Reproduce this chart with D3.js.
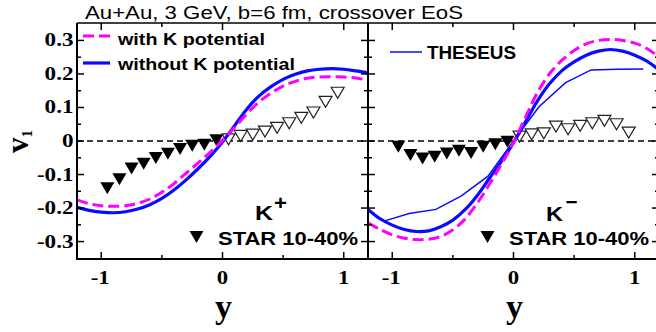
<!DOCTYPE html>
<html>
<head>
<meta charset="utf-8">
<script src="https://cdn.jsdelivr.net/npm/d3@7"></script>
<style>
  body { margin: 0; background: #fff; }
  svg { display: block; }
</style>
</head>
<body>
<div id="chart"></div>
<script>
// rapidity grid of the model curves
const rapidity = [-1.2, -1.1, -1.0, -0.9, -0.8, -0.7, -0.6, -0.5, -0.4, -0.3, -0.2, -0.1, 0,
  0.1, 0.2, 0.3, 0.4, 0.5, 0.6, 0.7, 0.8, 0.9, 1.0, 1.1, 1.2];

// K+ model curves
const kPlusWithPot = [-0.176, -0.187, -0.193, -0.195, -0.193, -0.186, -0.173, -0.153, -0.127, -0.096, -0.065, -0.033, 0.002,
  0.040, 0.081, 0.116, 0.143, 0.164, 0.178, 0.187, 0.191, 0.192, 0.191, 0.188, 0.181];
const kPlusWithoutPot = [-0.198, -0.207, -0.212, -0.214, -0.211, -0.203, -0.190, -0.171, -0.146, -0.116, -0.082, -0.045, -0.003,
  0.046, 0.095, 0.134, 0.162, 0.184, 0.199, 0.209, 0.214, 0.216, 0.214, 0.209, 0.203];

// K- model curves
const kMinusWithPot = [-0.244, -0.264, -0.280, -0.290, -0.294, -0.293, -0.285, -0.265, -0.233, -0.186, -0.130, -0.070, -0.005,
  0.072, 0.146, 0.202, 0.241, 0.270, 0.290, 0.300, 0.303, 0.300, 0.292, 0.276, 0.250];
const kMinusWithoutPot = [-0.204, -0.232, -0.251, -0.264, -0.270, -0.268, -0.256, -0.236, -0.205, -0.163, -0.112, -0.061, -0.005,
  0.058, 0.121, 0.172, 0.210, 0.236, 0.256, 0.268, 0.273, 0.268, 0.256, 0.238, 0.212];

// THESEUS K-
const theseusY = [-1.07, -0.86, -0.64, -0.43, -0.21, 0, 0.21, 0.43, 0.64, 0.86, 1.07];
const theseusV = [-0.239, -0.216, -0.204, -0.164, -0.105, 0.0, 0.102, 0.174, 0.212, 0.214, 0.215];

// STAR 10-40% (filled: measured, open: reflected)
const starYneg = [-0.95, -0.85, -0.75, -0.65, -0.55, -0.45, -0.35, -0.25, -0.15, -0.05];
const starYpos = [0.05, 0.15, 0.25, 0.35, 0.45, 0.55, 0.65, 0.75, 0.85, 0.95];
const starKPlusFilled = [-0.141, -0.114, -0.082, -0.068, -0.051, -0.038, -0.024, -0.014, -0.011, 0.002];
const starKPlusOpen = [0.005, 0.015, 0.019, 0.028, 0.039, 0.053, 0.069, 0.085, 0.117, 0.144];
const starKMinusFilled = [-0.017, -0.042, -0.052, -0.047, -0.037, -0.029, -0.036, -0.017, -0.010, -0.002];
const starKMinusOpen = [0.013, 0.020, 0.023, 0.043, 0.035, 0.045, 0.053, 0.060, 0.050, 0.025];

const yMajor = [-0.3, -0.2, -0.1, 0, 0.1, 0.2, 0.3];
const yMinor = [-0.25, -0.15, -0.05, 0.05, 0.15, 0.25];
const xMajor = [-1, 0, 1];
const xMinor = [-0.5, 0.5];

const W = 656, H = 332;
const plotTop = 23, plotBottom = 259, panelW = 291;
const blue = '#0a0aff', magenta = '#ff00ff';
const sans = '"Liberation Sans", Arial, sans-serif';
const serif = '"Liberation Serif", "Times New Roman", serif';

const svg = d3.select('#chart').append('svg')
  .attr('width', W)
  .attr('height', H);

const y = d3.scaleLinear().domain([-0.352, 0.352]).range([plotBottom, plotTop]);

const zip = (xs, vs) => xs.map((d, i) => [d, vs[i]]);

const panels = [
  {
    x0: 77, name: 'kplus',
    withPot: kPlusWithPot, withoutPot: kPlusWithoutPot,
    filled: starKPlusFilled, open: starKPlusOpen, theseus: false
  },
  {
    x0: 368, name: 'kminus',
    withPot: kMinusWithPot, withoutPot: kMinusWithoutPot,
    filled: starKMinusFilled, open: starKMinusOpen, theseus: true
  }
];

function txt(g, x, yy, s, o) {
  const t = g.append('text')
    .attr('x', x)
    .attr('y', yy)
    .attr('font-family', o.family || sans)
    .attr('font-size', o.size)
    .attr('font-weight', o.weight || 'normal')
    .attr('text-anchor', o.anchor || 'start')
    .attr('fill', '#000')
    .text(s);
  if (o.width) t.attr('textLength', o.width).attr('lengthAdjust', 'spacingAndGlyphs');
  return t;
}

function triangle(cx, cy, w, h) {
  return `M${cx - w / 2},${cy - h / 2}L${cx + w / 2},${cy - h / 2}L${cx},${cy + h / 2}Z`;
}

panels.forEach(p => {
  const x = d3.scaleLinear().domain([-1.2, 1.2]).range([p.x0, p.x0 + panelW]);
  const g = svg.append('g');

  g.append('clipPath').attr('id', 'clip-' + p.name)
    .append('rect')
    .attr('x', p.x0).attr('y', plotTop)
    .attr('width', panelW).attr('height', plotBottom - plotTop);

  const plot = g.append('g').attr('clip-path', `url(#clip-${p.name})`);

  // zero line
  plot.append('line')
    .attr('x1', p.x0).attr('x2', p.x0 + panelW)
    .attr('y1', y(0)).attr('y2', y(0))
    .attr('stroke', '#000')
    .attr('stroke-width', 1.3)
    .attr('stroke-dasharray', '6,4');

  // STAR data
  plot.selectAll('path.filled')
    .data(zip(starYneg, p.filled))
    .enter().append('path')
    .attr('class', 'filled')
    .attr('d', d => triangle(x(d[0]), y(d[1]), 14, 12))
    .attr('fill', '#000');

  plot.selectAll('path.open')
    .data(zip(starYpos, p.open))
    .enter().append('path')
    .attr('class', 'open')
    .attr('d', d => triangle(x(d[0]), y(d[1]), 13, 11))
    .attr('fill', '#fff')
    .attr('stroke', '#222')
    .attr('stroke-width', 1.2);

  const line = d3.line().curve(d3.curveCatmullRom.alpha(0.5)).x(d => x(d[0])).y(d => y(d[1]));

  if (p.theseus) {
    plot.append('path')
      .datum(zip(theseusY, theseusV))
      .attr('d', d3.line().x(d => x(d[0])).y(d => y(d[1])))
      .attr('fill', 'none')
      .attr('stroke', blue)
      .attr('stroke-width', 1.5);
  }

  plot.append('path')
    .datum(zip(rapidity, p.withoutPot))
    .attr('d', line)
    .attr('fill', 'none')
    .attr('stroke', blue)
    .attr('stroke-width', 3.2);

  plot.append('path')
    .datum(zip(rapidity, p.withPot))
    .attr('d', line)
    .attr('fill', 'none')
    .attr('stroke', magenta)
    .attr('stroke-width', 3)
    .attr('stroke-dasharray', '11,5');

  // frame
  const frame = g.append('g').attr('stroke', '#000').attr('fill', 'none');
  frame.append('line').attr('x1', p.x0).attr('x2', p.x0 + panelW).attr('y1', plotTop).attr('y2', plotTop).attr('stroke-width', 1.5);
  frame.append('line').attr('x1', p.x0 - 1).attr('x2', p.x0 + panelW).attr('y1', plotBottom).attr('y2', plotBottom).attr('stroke-width', 2);
  frame.append('line').attr('x1', p.x0).attr('x2', p.x0).attr('y1', plotTop).attr('y2', plotBottom).attr('stroke-width', 2);
  frame.append('line').attr('x1', p.x0 + panelW).attr('x2', p.x0 + panelW).attr('y1', plotTop).attr('y2', plotBottom).attr('stroke-width', 2);

  // ticks
  const xt = [...xMajor.map(v => [v, 7]), ...xMinor.map(v => [v, 4])];
  xt.forEach(([v, len]) => {
    frame.append('line').attr('x1', x(v)).attr('x2', x(v)).attr('y1', plotBottom).attr('y2', plotBottom - len).attr('stroke-width', 1.5);
    frame.append('line').attr('x1', x(v)).attr('x2', x(v)).attr('y1', plotTop).attr('y2', plotTop + len).attr('stroke-width', 1.5);
  });
  const yt = [...yMajor.map(v => [v, 7]), ...yMinor.map(v => [v, 4])];
  yt.forEach(([v, len]) => {
    frame.append('line').attr('x1', p.x0).attr('x2', p.x0 + len).attr('y1', y(v)).attr('y2', y(v)).attr('stroke-width', 1.5);
    frame.append('line').attr('x1', p.x0 + panelW).attr('x2', p.x0 + panelW - len).attr('y1', y(v)).attr('y2', y(v)).attr('stroke-width', 1.5);
  });

  // x tick labels
  xMajor.forEach(v => {
    svg.append('text')
      .attr('transform', `translate(${x(v) - (v < 0 ? 1 : 0)},284) scale(1.2,1)`)
      .attr('font-family', serif)
      .attr('font-size', 19)
      .attr('font-weight', 'bold')
      .attr('text-anchor', 'middle')
      .text(v < 0 ? '-' + Math.abs(v) : String(v));
  });
  txt(svg, x(0) + 1, 318, 'y', {family: serif, size: 34, weight: 'bold', anchor: 'middle'});

  // STAR legend
  svg.append('path').attr('d', triangle(p.x0 + 119.5, 237, 14, 12)).attr('fill', '#000');
  txt(svg, p.x0 + 141, 245, 'STAR 10-40%', {size: 18.5, weight: 'bold', width: 140});
});

// y tick labels (left panel only)
yMajor.forEach(v => {
  const s = v === 0 ? '0' : (v < 0 ? '-' : '') + Math.abs(v).toFixed(1);
  svg.append('text')
    .attr('transform', `translate(73.5,${y(v) + 6}) scale(1.25,1)`)
    .attr('font-family', serif)
    .attr('font-size', 18.5)
    .attr('font-weight', 'bold')
    .attr('text-anchor', 'end')
    .text(s);
});

// y axis label v1
const vl = svg.append('text')
  .attr('transform', 'translate(28,153) rotate(-90)')
  .attr('font-family', serif)
  .attr('font-weight', 'bold')
  .attr('font-size', 31);
vl.append('tspan').text('v');
vl.append('tspan').attr('font-size', 15).attr('dy', 4).text('1');

// title
txt(svg, 85, 19, 'Au+Au, 3 GeV, b=6 fm, crossover EoS', {size: 18, width: 378});

// particle labels
txt(svg, 255, 220, 'K', {size: 20, weight: 'bold', width: 18});
txt(svg, 274, 209.5, '+', {size: 20, weight: 'bold', width: 13});
txt(svg, 546, 220.5, 'K', {size: 20, weight: 'bold', width: 17});
txt(svg, 565.5, 209, '\u2212', {size: 20, weight: 'bold', width: 12});

// model legend
svg.append('line')
  .attr('x1', 83).attr('x2', 110).attr('y1', 36).attr('y2', 36)
  .attr('stroke', magenta).attr('stroke-width', 3).attr('stroke-dasharray', '11,5');
txt(svg, 118, 45, 'with K potential', {size: 16.3, weight: 'bold', width: 147});
svg.append('line')
  .attr('x1', 83).attr('x2', 110).attr('y1', 63).attr('y2', 63)
  .attr('stroke', blue).attr('stroke-width', 3.2);
txt(svg, 118, 70, 'without K potential', {size: 16.3, weight: 'bold', width: 177});

svg.append('line')
  .attr('x1', 390).attr('x2', 422).attr('y1', 52).attr('y2', 52)
  .attr('stroke', blue).attr('stroke-width', 1.5);
txt(svg, 427, 59, 'THESEUS', {size: 18.5, weight: 'bold', width: 89});
</script>
</body>
</html>
